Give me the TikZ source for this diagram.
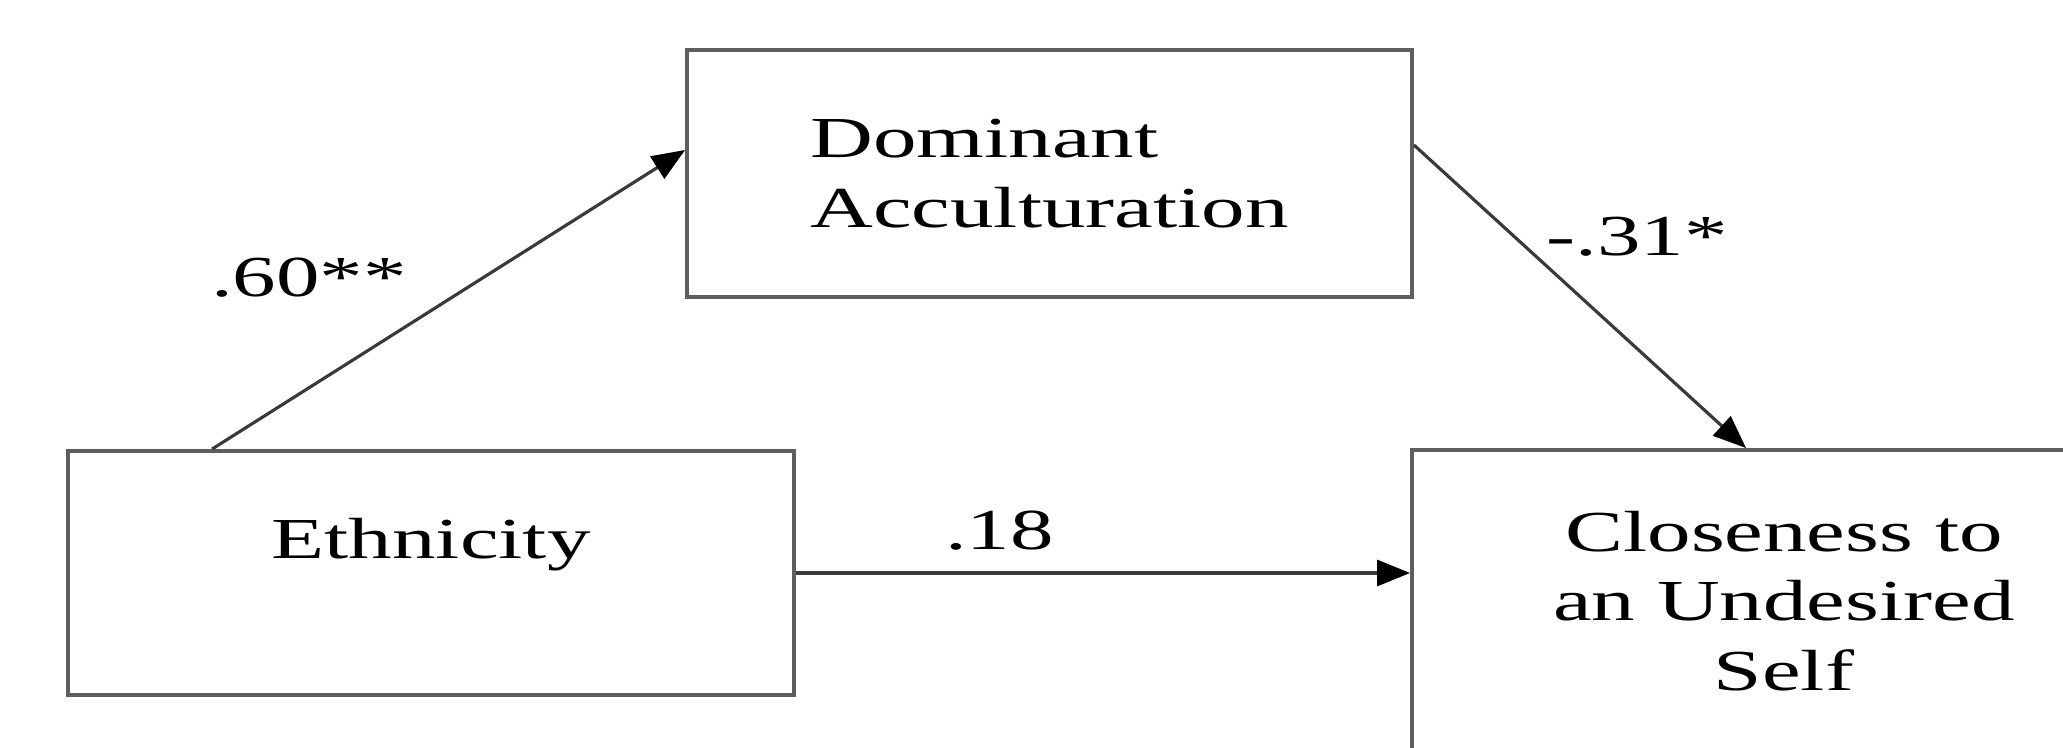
\documentclass[tikz,border=0pt]{standalone}
\usepackage{fontspec}
\setmainfont{Liberation Serif}[FakeStretch=1.5]
\usetikzlibrary{arrows.meta}
\definecolor{boxgray}{HTML}{5E5E5E}
\definecolor{linegray}{HTML}{3A3A3A}

\begin{document}
\begin{tikzpicture}[-{Triangle[length=0.33cm,width=0.26cm,color=black]},line width=0.9pt,
                      main node/.style={rectangle,draw=boxgray,line width=1.1pt,inner sep=0pt,font=\fontsize{16.5}{19.8}\selectfont},
                      coef/.style={inner sep=0pt,font=\fontsize{16.5}{19.8}\selectfont}]

    \useasboundingbox (0,0) rectangle (20.63,-7.48);
    \clip (0,0) rectangle (20.63,-7.48);

    % Nodes
    \node[main node,minimum width=7.26cm,minimum height=2.44cm,text height=1.07cm,text depth=1.37cm] (eth) at (4.31,-5.73) {Ethnicity};
    \node[main node,minimum width=7.25cm,minimum height=2.47cm,align=left] (dom) at (10.495,-1.735) {Dominant\\Acculturation};
    \node[main node,minimum width=7.44cm,minimum height=3.02cm,align=center] (clo) at (17.84,-6.01) {Closeness to\\an Undesired\\Self};

    % Paths
    \draw[draw=linegray] ([xshift=1.46cm]eth.north west) -- node[coef,pos=.5,xshift=-1.395cm,yshift=.22cm] (c60) {.60**} ([yshift=.235cm]dom.west);
    \draw[draw=linegray] ([yshift=.285cm]dom.east) -- node[coef,pos=.5,xshift=.57cm,yshift=.595cm] (c31) {-.31*} ([xshift=3.36cm]clo.north west);
    \draw[draw=linegray] (eth.east) -- node[coef,pos=.5,xshift=-1.035cm,yshift=.42cm] (c18) {.18} (eth.east -| clo.west);

\end{tikzpicture}
\end{document}
